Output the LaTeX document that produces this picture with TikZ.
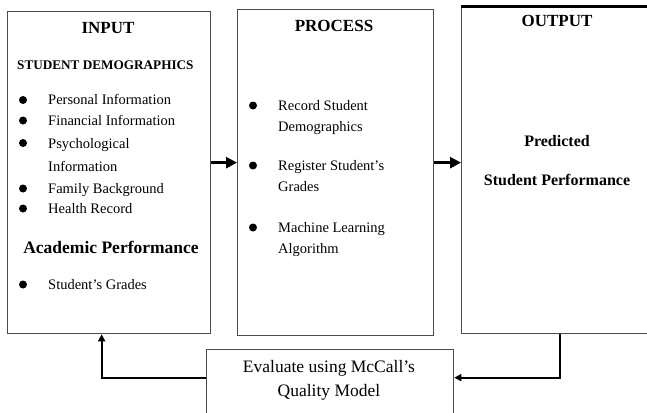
\documentclass[tikz,border=0pt]{standalone}
\usepackage{fontspec}
\setmainfont{Liberation Serif}
\usetikzlibrary{arrows.meta}

\begin{document}
\begin{tikzpicture}[
  x=1pt, y=-1pt,
  box/.style={draw=black!70, line width=1.3pt, inner sep=0pt, anchor=north west},
  head/.style={font=\fontsize{17}{20}\selectfont\bfseries, anchor=base, inner sep=0pt},
  entry/.style={font=\fontsize{14.5}{17}\selectfont, anchor=base west, inner sep=0pt},
  dot/.style={circle, fill=black, inner sep=0pt, minimum size=8pt},
  flow/.style={-{Triangle[length=11pt,width=11pt]}, line width=3pt},
  back/.style={-{Triangle[length=7pt,width=7pt]}, line width=2pt}
]
  \useasboundingbox (0,0) rectangle (647,412);

  % the three stages and the evaluation box
  \node[box, minimum width=203pt, minimum height=322pt] (input) at (7,11) {};
  \node[box, minimum width=196pt, minimum height=326pt] (process) at (237,9) {};
  \node[box, minimum width=200pt, minimum height=326pt] (output) at (461,7) {};
  \draw[line width=3pt] (output.north west) -- (output.north east);
  \node[box, minimum width=247pt, minimum height=80pt] (eval) at (206,349) {};

  % input stage
  \node[head] (intitle) at (108,34) {INPUT};
  \node[font=\fontsize{13.2}{15}\selectfont\bfseries, anchor=base west,
    inner sep=0pt] (demo) at (17,69) {STUDENT DEMOGRAPHICS};
  \node[entry] (personal) at (48,104.5) {Personal Information};
  \node[entry] (financial) at (48,125) {Financial Information};
  \node[entry] (psycho) at (48,148) {Psychological};
  \node[entry] (psycho2) at (48,171) {Information};
  \node[entry] (family) at (48,193) {Family Background};
  \node[entry] (health) at (48,213) {Health Record};
  \node[font=\fontsize{17.5}{20}\selectfont\bfseries, anchor=base,
    inner sep=0pt] (academic) at (111,253) {Academic Performance};
  \node[entry] (grades) at (48,289) {Student’s Grades};
  \foreach \y [count=\i] in {100,120.5,143,188.5,208.5,284.5}
    \node[dot] (indot\i) at (23,\y) {};

  % process stage
  \node[head] (proctitle) at (334,32) {PROCESS};
  \node[entry] (record) at (278,110) {Record Student};
  \node[entry] (record2) at (278,131) {Demographics};
  \node[entry] (register) at (278,170) {Register Student’s};
  \node[entry] (register2) at (278,191) {Grades};
  \node[entry] (ml) at (278,232) {Machine Learning};
  \node[entry] (ml2) at (278,253) {Algorithm};
  \foreach \y [count=\i] in {105.5,165.5,227.5}
    \node[dot] (procdot\i) at (253,\y) {};

  % output stage
  \node[head] (outtitle) at (557,27) {OUTPUT};
  \node[font=\fontsize{16}{19}\selectfont\bfseries, anchor=base,
    inner sep=0pt] (predicted) at (557,146) {Predicted};
  \node[font=\fontsize{16}{19}\selectfont\bfseries, anchor=base,
    inner sep=0pt] (perf) at (557,185) {Student Performance};

  % evaluation
  \node[font=\fontsize{17.5}{20}\selectfont, anchor=base, inner sep=0pt]
    (evaltxt) at (329,372) {Evaluate using McCall’s};
  \node[font=\fontsize{17.5}{20}\selectfont, anchor=base, inner sep=0pt]
    (evaltxt2) at (329,396) {Quality Model};

  % connectors
  \draw[flow] ([yshift=10pt]input.east) -- ([yshift=10pt]input.east -| process.west);
  \draw[flow] ([yshift=10pt]process.east) -- ([yshift=10pt]process.east -| output.west);
  \draw[back] ([xshift=-2pt]output.south) |- ([yshift=12pt]eval.east);
  \draw[back] ([yshift=12pt]eval.west) -| ([xshift=-7.5pt]input.south);
\end{tikzpicture}
\end{document}
